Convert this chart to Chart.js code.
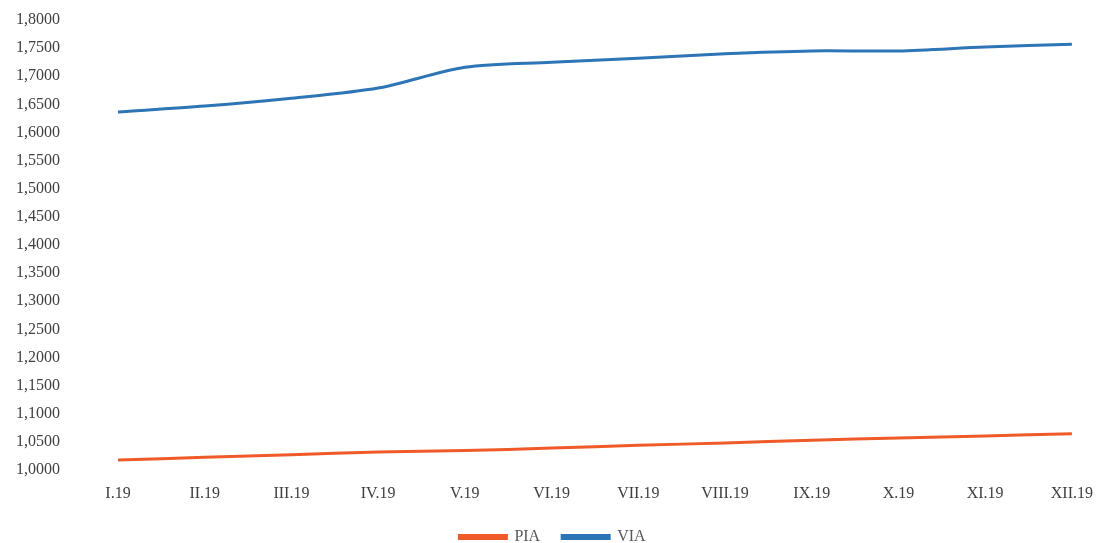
<!DOCTYPE html>
<html><head><meta charset="utf-8">
<script src="https://cdn.jsdelivr.net/npm/chart.js@4"></script>
<style>html,body{margin:0;padding:0;background:#fff}#wrap{width:1097px;height:543px}</style>
</head><body><div id="wrap"><canvas id="c"></canvas></div>
<script>
const categories = ["I.19","II.19","III.19","IV.19","V.19","VI.19","VII.19","VIII.19","IX.19","X.19","XI.19","XII.19"];
const piaValues = [1.0178,1.0225,1.0270,1.0320,1.0345,1.0390,1.0440,1.0480,1.0530,1.0570,1.0605,1.0645];
const viaValues = [1.6364,1.6470,1.6610,1.6790,1.7160,1.7250,1.7320,1.7400,1.7450,1.7450,1.7520,1.7570];
const yMin = 1.0, yMax = 1.8, yStep = 0.05;
const serif = '"Liberation Serif", serif';

new Chart(document.getElementById('c'), {
  type: 'line',
  data: {
    labels: categories,
    datasets: [
      {label:'PIA', data: piaValues, borderColor:'#EF5A28', backgroundColor:'#EF5A28', borderWidth:3, pointRadius:0, tension:0.3},
      {label:'VIA', data: viaValues, borderColor:'#2E75B6', backgroundColor:'#2E75B6', borderWidth:3, pointRadius:0, tension:0.3}
    ]
  },
  options: {
    responsive:true, maintainAspectRatio:false, animation:false,
    layout:{padding:{left:8,right:0,top:20,bottom:0}},
    plugins:{
      legend:{position:'bottom', maxHeight:36, labels:{boxWidth:47, boxHeight:3, color:'#595959', padding:22, font:{family:serif, size:16}}},
      tooltip:{enabled:false}
    },
    scales:{
      x:{grid:{display:false, tickLength:10}, border:{display:false},
         afterFit:(s)=>{ s.height = 37; },
         ticks:{color:'#404040', padding:4, maxRotation:0, autoSkip:false, font:{family:serif, size:16}}},
      y:{min:yMin, max:yMax, grid:{display:false, tickLength:50}, border:{display:false},
         afterFit:(s)=>{ s.width = 110; },
         ticks:{stepSize:yStep, color:'#404040', padding:8, font:{family:serif, size:16},
           callback:(v)=>v.toFixed(4).replace('.',',')}}
    }
  }
});
</script></body></html>
